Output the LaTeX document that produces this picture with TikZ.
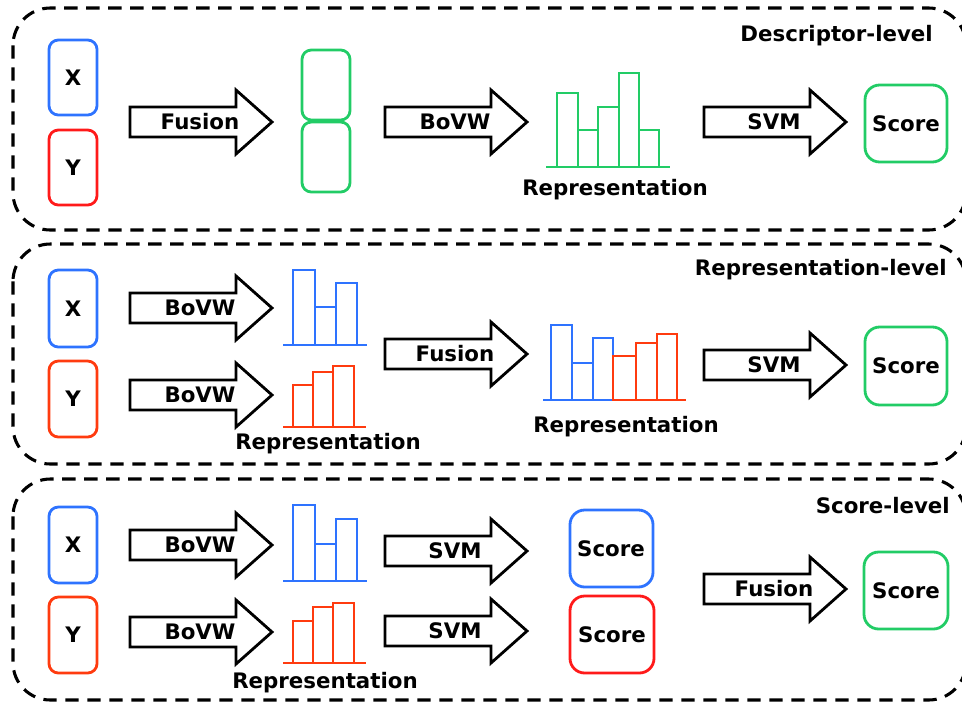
\documentclass[tikz,border=0pt]{standalone}
\usepackage{fontspec}
\setmainfont{DejaVu Sans}
\definecolor{cblue}{HTML}{2E73FF}
\definecolor{cred}{HTML}{FF1A1A}
\definecolor{corange}{HTML}{FF3B0F}
\definecolor{cgreen}{HTML}{22CC66}
\tikzset{
  panel/.style={draw=black, line width=2.3pt, dash pattern=on 10pt off 6.5pt, rounded corners=28pt},
  inbox/.style={line width=2.1pt, rounded corners=7pt},
  scorebox/.style={line width=2.1pt, rounded corners=11pt},
  lbl/.style={font=\fontsize{16}{19}\selectfont\bfseries, inner sep=0pt},
  barline/.style={line width=2.2pt},
  fatarrow/.style={draw=black, line width=2.1pt, fill=white, line join=miter},
}
% block arrow: name, left x, centre y, label
\newcommand{\fatarrow}[4]{%
  \draw[fatarrow] (#2,#3-15) -- ++(106,0) -- ++(0,-17) -- ++(36,32) -- ++(-36,32)
    -- ++(0,-17) -- ++(-106,0) -- cycle;
  \node[lbl] (#1) at (#2+70,#3) {#4};}
% histogram: colour, baseline y, baseline from, baseline to, list of left/right/top
\newcommand{\histo}[5]{%
  \foreach \xa/\xb/\yt in {#5} {\draw[barline,#1] (\xa,\yt) rectangle (\xb,#2);}
  \draw[barline,#1] (#3,#2) -- (#4,#2);}
\begin{document}
\begin{tikzpicture}[x=0.75pt,y=-0.75pt]
\useasboundingbox (0,0) rectangle (962,704);

% ---------- descriptor-level ----------
\draw[panel] (13,8) rectangle (966,230);
\node[lbl, anchor=east] (t1) at (933,36) {Descriptor-level};
\draw[inbox,cblue] (49,40) rectangle (97,115);
\node[lbl] (x1) at (73,78) {X};
\draw[inbox,cred] (49,130) rectangle (97,205);
\node[lbl] (y1) at (73,168) {Y};
\fatarrow{f1}{130}{122}{Fusion}
\draw[inbox,cgreen] (302,50) rectangle (350,120);
\draw[inbox,cgreen] (302,122) rectangle (350,192);
\fatarrow{b1}{385}{122}{BoVW}
\histo{cgreen}{167}{546}{670}{557/578/93, 578/598/130, 598/619/107, 619/639/73, 639/659/130}
\node[lbl] (r1) at (615,190) {Representation};
\fatarrow{s1}{704}{122}{SVM}
\draw[scorebox,cgreen] (865,85) rectangle (947,162);
\node[lbl] (sc1) at (906,124) {Score};

% ---------- representation-level ----------
\draw[panel] (13,244) rectangle (966,464);
\node[lbl, anchor=east] (t2) at (947,270) {Representation-level};
\draw[inbox,cblue] (49,270) rectangle (97,347);
\node[lbl] (x2) at (73,309) {X};
\draw[inbox,corange] (49,361) rectangle (97,437);
\node[lbl] (y2) at (73,399) {Y};
\fatarrow{b2}{130}{308}{BoVW}
\fatarrow{b3}{130}{395}{BoVW}
\histo{cblue}{345}{283}{367}{293/315/270, 315/336/307, 336/357/283}
\histo{corange}{427}{283}{366}{293/313/385, 313/333/372, 333/354/366}
\node[lbl] (r2) at (328,444) {Representation};
\fatarrow{f2}{385}{354}{Fusion}
\histo{cblue}{400}{543}{613}{551/572/325, 572/593/363, 593/613/338}
\histo{corange}{400}{613}{686}{613/636/356, 636/657/343, 657/677/334}
\node[lbl] (r3) at (626,427) {Representation};
\fatarrow{s2}{704}{365}{SVM}
\draw[scorebox,cgreen] (865,327) rectangle (947,405);
\node[lbl] (sc2) at (906,366) {Score};

% ---------- score-level ----------
\draw[panel] (13,479) rectangle (966,700);
\node[lbl, anchor=east] (t3) at (950,506) {Score-level};
\draw[inbox,cblue] (49,507) rectangle (97,583);
\node[lbl] (x3) at (73,545) {X};
\draw[inbox,corange] (49,597) rectangle (97,673);
\node[lbl] (y3) at (73,635) {Y};
\fatarrow{b4}{130}{545}{BoVW}
\fatarrow{b5}{130}{632}{BoVW}
\histo{cblue}{581}{283}{367}{293/315/505, 315/336/544, 336/357/519}
\histo{corange}{663}{283}{366}{293/313/621, 313/333/607, 333/354/603}
\node[lbl] (r4) at (325,683) {Representation};
\fatarrow{s3}{385}{551}{SVM}
\fatarrow{s4}{385}{631}{SVM}
\draw[scorebox,cblue] (570,510) rectangle (653,587);
\node[lbl] (sc3) at (611,549) {Score};
\draw[scorebox,cred] (570,596) rectangle (654,673);
\node[lbl] (sc4) at (612,635) {Score};
\fatarrow{f3}{704}{589}{Fusion}
\draw[scorebox,cgreen] (864,552) rectangle (948,629);
\node[lbl] (sc5) at (906,591) {Score};
\end{tikzpicture}
\end{document}
